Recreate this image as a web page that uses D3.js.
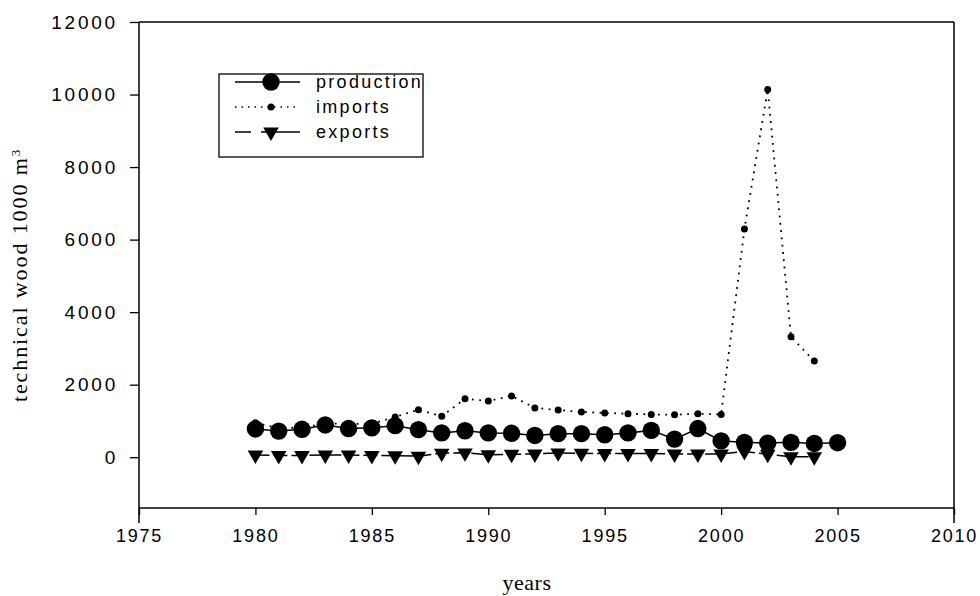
<!DOCTYPE html>
<html>
<head>
<meta charset="utf-8">
<script src="https://cdn.jsdelivr.net/npm/d3@7"></script>
<style>
  html, body { margin: 0; padding: 0; background: #fff; }
  svg { display: block; }
</style>
</head>
<body>
<svg id="chart" width="980" height="596"></svg>
<script>
// ---- data ----
const years = [1980,1981,1982,1983,1984,1985,1986,1987,1988,1989,1990,1991,1992,1993,1994,1995,1996,1997,1998,1999,2000,2001,2002,2003,2004,2005];
const production = [780,720,770,890,790,810,870,760,670,730,670,660,600,650,650,620,670,740,500,790,450,410,390,410,380,400];
const importYears = [1980,1981,1982,1983,1984,1985,1986,1987,1988,1989,1990,1991,1992,1993,1994,1995,1996,1997,1998,1999,2000,2001,2002,2003,2004];
const imports = [950,800,820,930,920,920,1110,1310,1130,1610,1550,1690,1360,1300,1250,1220,1200,1180,1170,1200,1180,6290,10140,3320,2650];
const exportYears = [1980,1981,1982,1983,1984,1985,1986,1987,1988,1989,1990,1991,1992,1993,1994,1995,1996,1997,1998,1999,2000,2001,2002,2003,2004];
const exportsV = [60,50,50,60,60,50,40,30,110,120,70,80,90,120,110,100,100,100,90,90,90,160,80,10,10];
const xTicks = [1975,1980,1985,1990,1995,2000,2005,2010];
const yTicks = [0,2000,4000,6000,8000,10000,12000];
const legendLabels = ["production","imports","exports"];

const svg = d3.select("#chart");
const L = 139, R = 954, T = 22, B = 508;
const x = d3.scaleLinear().domain([1975, 2010]).range([L, R]);
const y = d3.scaleLinear().domain([-1400, 12000]).range([B, T]);

const sans = "'Liberation Sans', Arial, sans-serif";
const serif = "'Liberation Serif', 'Times New Roman', serif";

// axes
const gy = svg.append("g").attr("transform", `translate(${L},0)`)
  .call(d3.axisLeft(y).tickValues(yTicks).tickSize(9).tickPadding(12).tickFormat(d3.format("d")));
const gx = svg.append("g").attr("transform", `translate(0,${B})`)
  .call(d3.axisBottom(x).tickValues(xTicks).tickSize(7).tickPadding(14).tickFormat(d3.format("d")));
[gx, gy].forEach(g => {
  g.select(".domain").remove();
  g.selectAll(".tick line").attr("stroke", "#000").attr("stroke-width", 1.3);
  g.selectAll(".tick text").attr("fill", "#000").style("font-family", sans);
});
gx.selectAll(".tick text").attr("dy", "0.71em").style("font-size", "18px").style("letter-spacing", "1.8px");
gy.selectAll(".tick text").style("font-size", "19px").style("letter-spacing", "2.8px");

// frame
const frame = svg.append("g").attr("stroke", "#000").attr("stroke-width", 1.5).attr("fill", "none");
frame.append("line").attr("x1", L).attr("x2", R).attr("y1", T).attr("y2", T);
frame.append("line").attr("x1", L).attr("x2", R).attr("y1", B).attr("y2", B);
frame.append("line").attr("x1", L).attr("x2", L).attr("y1", T).attr("y2", B + 15);
frame.append("line").attr("x1", R).attr("x2", R).attr("y1", T).attr("y2", B + 15);

// lines
const line = d3.line().x(d => x(d[0])).y(d => y(d[1]));
const prodData = years.map((yr, i) => [yr, production[i]]);
const impData = importYears.map((yr, i) => [yr, imports[i]]);
const expData = exportYears.map((yr, i) => [yr, exportsV[i]]);

svg.append("path").datum(impData).attr("d", line).attr("fill", "none")
  .attr("stroke", "#000").attr("stroke-width", 1.8).attr("stroke-dasharray", "1.8,5.5");
svg.append("path").datum(expData).attr("d", line).attr("fill", "none")
  .attr("stroke", "#000").attr("stroke-width", 1.5).attr("stroke-dasharray", "14,4");
svg.append("path").datum(prodData).attr("d", line).attr("fill", "none")
  .attr("stroke", "#000").attr("stroke-width", 1.5);

const tri = d3.symbol().type(d3.symbolTriangle).size(105);
svg.append("g").selectAll("path").data(expData).join("path")
  .attr("d", tri).attr("transform", d => `translate(${x(d[0])},${y(d[1])}) rotate(180)`).attr("fill", "#000");
svg.append("g").selectAll("circle").data(impData).join("circle")
  .attr("cx", d => x(d[0])).attr("cy", d => y(d[1])).attr("r", 3.5).attr("fill", "#000");
svg.append("g").selectAll("circle").data(prodData).join("circle")
  .attr("cx", d => x(d[0])).attr("cy", d => y(d[1])).attr("r", 8.7).attr("fill", "#000");

// axis titles
svg.append("text").attr("x", 527).attr("y", 590).attr("text-anchor", "middle")
  .style("font-family", serif).style("font-size", "22px").style("letter-spacing", "0.5px").text("years");
const yl = svg.append("text").attr("transform", `translate(27,${(T + B) / 2 + 10}) rotate(-90)`)
  .attr("text-anchor", "middle").style("font-family", serif).style("font-size", "22px").style("letter-spacing", "1.9px");
yl.append("tspan").text("technical wood 1000 m");
yl.append("tspan").attr("dy", "-0.55em").style("font-size", "13px").text("3");

// legend
const lg = svg.append("g");
lg.append("rect").attr("x", 219).attr("y", 74).attr("width", 204).attr("height", 83)
  .attr("fill", "#fff").attr("stroke", "#000").attr("stroke-width", 1.3);
const rows = [82, 107, 132];
const lx1 = 235, lx2 = 300, lm = 271;
// production
lg.append("line").attr("x1", lx1).attr("x2", lx2).attr("y1", rows[0]).attr("y2", rows[0]).attr("stroke", "#000").attr("stroke-width", 1.5);
lg.append("circle").attr("cx", lm).attr("cy", rows[0]).attr("r", 8.7).attr("fill", "#000");
// imports
lg.append("line").attr("x1", lx1).attr("x2", lx2).attr("y1", rows[1]).attr("y2", rows[1]).attr("stroke", "#000").attr("stroke-width", 1.5).attr("stroke-dasharray", "1.5,5");
lg.append("circle").attr("cx", lm).attr("cy", rows[1]).attr("r", 3.5).attr("fill", "#000");
// exports
lg.append("line").attr("x1", lx1).attr("x2", lx2).attr("y1", rows[2]).attr("y2", rows[2]).attr("stroke", "#000").attr("stroke-width", 1.5).attr("stroke-dasharray", "16,10,40");
lg.append("path").attr("d", tri).attr("transform", `translate(${lm},${rows[2]}) rotate(180)`).attr("fill", "#000");
lg.selectAll("text.lab").data(legendLabels).join("text").attr("class", "lab")
  .attr("x", 316).attr("y", (d, i) => rows[i]).attr("dy", "0.35em")
  .style("font-family", sans).style("font-size", "18px").style("letter-spacing", "2.3px").text(d => d);
</script>
</body>
</html>
